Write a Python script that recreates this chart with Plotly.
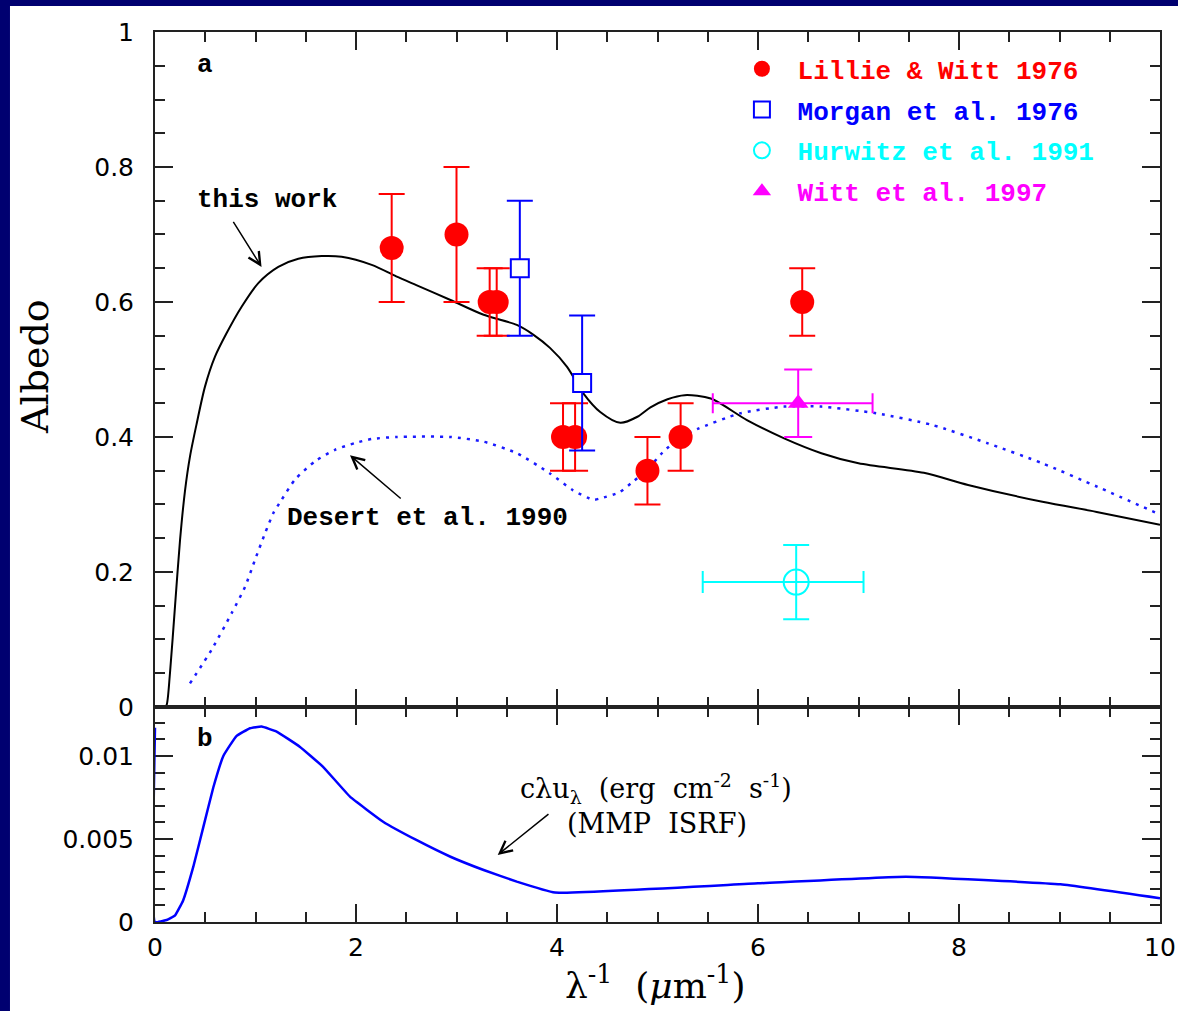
import plotly.graph_objects as go

# ---------------- data ----------------
# "this work" model albedo curve
tw_x = [0.0, 0.10, 0.116, 0.149, 0.199, 0.249, 0.299, 0.348, 0.415, 0.498, 0.597, 0.713, 0.862,
        1.028, 1.227, 1.426, 1.658, 1.857, 2.156, 2.40, 2.60, 2.94, 3.27, 3.60, 3.77, 3.93, 4.10,
        4.26, 4.43, 4.63, 4.80, 4.93, 5.10, 5.27, 5.53, 5.89, 6.26, 6.63, 7.00, 7.65, 8.09, 8.83,
        9.37, 10.0]
tw_y = [0.0, 0.0, 0.003, 0.050, 0.149, 0.247, 0.321, 0.371, 0.420, 0.475, 0.519, 0.554, 0.593,
        0.628, 0.652, 0.664, 0.668, 0.667, 0.655, 0.638, 0.625, 0.603, 0.581, 0.566, 0.551, 0.532, 0.504,
        0.465, 0.437, 0.421, 0.430, 0.444, 0.456, 0.462, 0.457, 0.425, 0.398, 0.376, 0.361, 0.347, 0.329, 0.304,
        0.289, 0.270]

# Desert et al. 1990 model
de_x = [0.348, 0.564, 0.763, 0.896, 0.995, 1.094, 1.177, 1.26, 1.393, 1.592, 1.791, 1.99, 2.156,
        2.40, 2.94, 3.27, 3.60, 3.93, 4.16, 4.36, 4.43, 4.62, 4.75, 4.90, 5.05, 5.23, 5.40, 5.82,
        6.26, 6.63, 7.18, 7.73, 8.28, 8.83, 9.38, 10.0]
de_y = [0.035, 0.085, 0.139, 0.178, 0.218, 0.257, 0.287, 0.307, 0.337, 0.364, 0.381, 0.391, 0.397,
        0.400, 0.400, 0.393, 0.376, 0.346, 0.321, 0.307, 0.309, 0.318, 0.333, 0.352, 0.377, 0.400, 0.412, 0.435,
        0.445, 0.445, 0.435, 0.418, 0.391, 0.361, 0.326, 0.285]

# Lillie & Witt 1976
lw_x = [2.355, 3.00, 3.33, 3.40, 4.06, 4.18, 4.90, 5.23, 6.44]
lw_y = [0.68, 0.70, 0.60, 0.60, 0.40, 0.40, 0.35, 0.40, 0.60]
lw_err = [0.08, 0.10, 0.05, 0.05, 0.05, 0.05, 0.05, 0.05, 0.05]

# Morgan et al. 1976
mo_x = [3.63, 4.25]
mo_y = [0.65, 0.48]
mo_err = [0.10, 0.10]

# Hurwitz et al. 1991
hu_x = [6.38]
hu_y = [0.185]
hu_yerr = [0.055]
hu_xerr_plus = [0.67]
hu_xerr_minus = [0.93]

# Witt et al. 1997
wi_x = [6.40]
wi_y = [0.45]
wi_yerr = [0.05]
wi_xerr_plus = [0.74]
wi_xerr_minus = [0.85]

# MMP ISRF  c*lambda*u_lambda
isrf_x = [0.0, 0.0, 0.116, 0.20, 0.28, 0.38, 0.48, 0.58, 0.68, 0.81, 0.945, 1.06, 1.21, 1.44,
          1.67, 1.94, 2.27, 2.60, 2.94, 3.27, 3.60, 3.98, 6.0, 7.47, 9.01, 10.0]
isrf_y = [0.0117, 0.0, 0.00012, 0.0004, 0.0013, 0.0033, 0.0057, 0.0081, 0.0100, 0.0112, 0.01167,
          0.01177, 0.01147, 0.01056, 0.00936, 0.00755, 0.00604, 0.00494, 0.00393, 0.00313,
          0.00243, 0.00177, 0.00233, 0.00273, 0.00227, 0.00143]

x_ticks = [0, 2, 4, 6, 8, 10]
a_ticks = [0, 0.2, 0.4, 0.6, 0.8, 1]
a_ticktext = ["0", "0.2", "0.4", "0.6", "0.8", "1"]
b_ticks = [0, 0.005, 0.01]
b_ticktext = ["0", "0.005", "0.01"]

RED = "#ff0000"
BLUE = "#0000ff"
CYAN = "#00ffff"
MAG = "#ff00ff"
NAVY = "#000070"

LEG_FONT = "Liberation Mono"
SERIF = "DejaVu Serif"
SANS = "DejaVu Sans"

fig = go.Figure()

fig.add_trace(go.Scatter(x=tw_x, y=tw_y, mode="lines", line=dict(color="black", width=2, shape="spline", smoothing=0.8),
                         showlegend=False, xaxis="x", yaxis="y"))
fig.add_trace(go.Scatter(x=de_x, y=de_y, mode="lines", line=dict(color="#1a1aff", width=2.5, dash="3px,6px", shape="spline", smoothing=0.6),
                         showlegend=False, xaxis="x", yaxis="y"))

fig.add_trace(go.Scatter(
    x=lw_x, y=lw_y, mode="markers", xaxis="x", yaxis="y",
    name="<b><span style='color:#ff0000'> Lillie &amp; Witt 1976</span></b>", legendgroup="g1",
    marker=dict(symbol="circle", size=24, color=RED),
    error_y=dict(type="data", array=lw_err, color=RED, thickness=2, width=13)))
fig.add_trace(go.Scatter(
    x=mo_x, y=mo_y, mode="markers", xaxis="x", yaxis="y",
    name="<b><span style='color:#0000ff'> Morgan et al. 1976</span></b>", legendgroup="g2",
    marker=dict(symbol="square", size=18, color="white", line=dict(color=BLUE, width=2)),
    error_y=dict(type="data", array=mo_err, color=BLUE, thickness=2, width=13)))
fig.add_trace(go.Scatter(
    x=hu_x, y=hu_y, mode="markers", xaxis="x", yaxis="y",
    name="<b><span style='color:#00ffff'> Hurwitz et al. 1991</span></b>", legendgroup="g3",
    marker=dict(symbol="circle-open", size=25, color=CYAN, line=dict(color=CYAN, width=2)),
    error_y=dict(type="data", array=hu_yerr, color=CYAN, thickness=2, width=13),
    error_x=dict(type="data", array=hu_xerr_plus, arrayminus=hu_xerr_minus, color=CYAN, thickness=2, width=11)))
fig.add_trace(go.Scatter(
    x=wi_x, y=wi_y, mode="markers", xaxis="x", yaxis="y",
    name="<b><span style='color:#ff00ff'> Witt et al. 1997</span></b>", legendgroup="g4",
    marker=dict(symbol="triangle-up", size=18, color=MAG),
    error_y=dict(type="data", array=wi_yerr, color=MAG, thickness=2, width=14),
    error_x=dict(type="data", array=wi_xerr_plus, arrayminus=wi_xerr_minus, color=MAG, thickness=2, width=10)))

fig.add_trace(go.Scatter(x=isrf_x, y=isrf_y, mode="lines", line=dict(color=BLUE, width=2.5, shape="spline", smoothing=0.3),
                         showlegend=False, xaxis="x2", yaxis="y2"))

ax_common = dict(showline=True, linewidth=2, linecolor="#222", mirror="ticks", ticks="inside",
                 tickcolor="#222", tickwidth=2, showgrid=False, zeroline=False, automargin=False,
                 tickfont=dict(family=SANS, size=25, color="black"))
minor_style = dict(ticklen=10, ticks="inside", tickcolor="#222", tickwidth=2)

split = 0.2416
fig.update_layout(
    width=1178, height=1011,
    margin=dict(l=155, r=18, t=32, b=89, autoexpand=False),
    paper_bgcolor=NAVY, plot_bgcolor="white",
    showlegend=True,
    xaxis=dict(domain=[0, 1], anchor="y", range=[0, 10], tickvals=x_ticks, ticklen=18,
               showticklabels=False, minor=dict(dtick=0.5, **minor_style), **ax_common),
    yaxis=dict(domain=[split, 1], anchor="x", range=[0, 1], tickvals=a_ticks, ticktext=a_ticktext, ticklen=18,
               ticklabelstandoff=14, minor=dict(dtick=0.05, **minor_style), **ax_common),
    xaxis2=dict(domain=[0, 1], anchor="y2", range=[0, 10], matches="x", tickvals=x_ticks, ticklen=18,
                ticklabelstandoff=2, minor=dict(dtick=0.5, **minor_style), **ax_common),
    yaxis2=dict(domain=[0, split], anchor="x2", range=[0, 0.01295], tickvals=b_ticks, ticktext=b_ticktext, ticklen=18,
                ticklabelstandoff=14, layer="below traces", minor=dict(dtick=0.001, **minor_style), **ax_common),
    legend=dict(x=0.584, y=0.985, xanchor="left", yanchor="top", bgcolor="rgba(0,0,0,0)",
                font=dict(family=LEG_FONT, size=26), tracegroupgap=4),
)

# white page with navy frame strips
fig.add_shape(type="rect", xref="paper", yref="paper", x0=-0.1443, x1=1.2, y0=-0.3, y1=1.0292,
              fillcolor="white", line=dict(width=0), layer="below")

ann = []
txt_font = dict(family=LEG_FONT, size=26, color="black")
ann.append(dict(xref="x", yref="y", x=0.4, y=0.951, text="<b>a</b>", showarrow=False, xanchor="left", font=txt_font))
ann.append(dict(xref="x2", yref="y2", x=0.4, y=0.0110, text="<b>b</b>", showarrow=False, xanchor="left", font=txt_font))
ann.append(dict(xref="x", yref="y", x=0.4, y=0.751, text="<b>this work</b>", showarrow=False, xanchor="left", font=txt_font))
ann.append(dict(xref="x", yref="y", x=1.29, y=0.280, text="<b>Desert et al. 1990</b>", showarrow=False, xanchor="left", font=txt_font))
# arrows
ann.append(dict(xref="x", yref="y", axref="x", ayref="y", x=1.06, y=0.652, ax=0.77, ay=0.721, text="",
                showarrow=True, arrowhead=5, arrowsize=1.6, arrowwidth=1.5, arrowcolor="black"))
ann.append(dict(xref="x", yref="y", axref="x", ayref="y", x=1.94, y=0.373, ax=2.46, ay=0.307, text="",
                showarrow=True, arrowhead=5, arrowsize=1.6, arrowwidth=1.5, arrowcolor="black"))
ann.append(dict(xref="x2", yref="y2", axref="x2", ayref="y2", x=3.41, y=0.00404, ax=3.93, ay=0.00657, text="",
                showarrow=True, arrowhead=5, arrowsize=1.6, arrowwidth=1.5, arrowcolor="black"))
isrf_font = dict(family=SERIF, size=27, color="black")
ann.append(dict(xref="x2", yref="y2", x=4.985, y=0.00801,
                text="cλu<sub>λ</sub>  (erg  cm<sup>-2</sup>  s<sup>-1</sup>)", showarrow=False, font=isrf_font))
ann.append(dict(xref="x2", yref="y2", x=4.995, y=0.00596, text="(MMP  ISRF)", showarrow=False, font=isrf_font))
# axis titles
ann.append(dict(xref="paper", yref="paper", x=-0.1194, y=0.6236, text="Albedo", textangle=-90, showarrow=False,
                xanchor="center", yanchor="middle", font=dict(family=SERIF, size=38, color="black")))
ann.append(dict(xref="paper", yref="paper", x=0.4975, y=-0.069,
                text="λ<sup>-1</sup>  (<i>μ</i>m<sup>-1</sup>)", showarrow=False,
                xanchor="center", yanchor="middle", font=dict(family=SERIF, size=36, color="black")))
fig.update_layout(annotations=ann)

fig.write_html("out.html")
